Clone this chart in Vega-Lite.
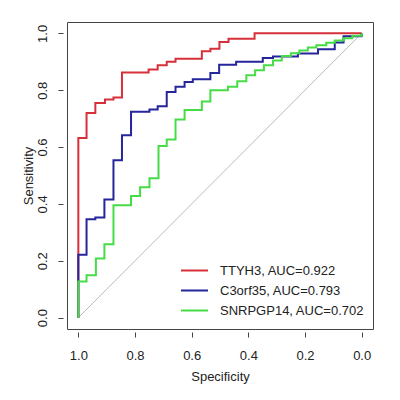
{
  "$schema": "https://vega.github.io/schema/vega-lite/v6.json",
  "width": 306,
  "height": 307,
  "autosize": "none",
  "padding": {"left": 67, "top": 22, "right": 27, "bottom": 71},
  "background": "#ffffff",
  "config": {
    "font": "Liberation Sans",
    "view": {"stroke": "#444444", "strokeWidth": 1},
    "axis": {
      "grid": false,
      "domain": false,
      "tickColor": "#444444",
      "tickSize": 5,
      "labelFont": "Liberation Sans",
      "labelFontSize": 13,
      "labelColor": "#222222",
      "titleFont": "Liberation Sans",
      "titleFontSize": 13,
      "titleFontWeight": "normal",
      "titleColor": "#222222"
    }
  },
  "datasets": {
    "roc": [
      {"curve": "TTYH3, AUC=0.922", "i": 0, "spec": 1.0, "sens": 0.0},
      {"curve": "TTYH3, AUC=0.922", "i": 1, "spec": 1.0, "sens": 0.632},
      {"curve": "TTYH3, AUC=0.922", "i": 2, "spec": 0.971, "sens": 0.72},
      {"curve": "TTYH3, AUC=0.922", "i": 3, "spec": 0.94, "sens": 0.755},
      {"curve": "TTYH3, AUC=0.922", "i": 4, "spec": 0.906, "sens": 0.767},
      {"curve": "TTYH3, AUC=0.922", "i": 5, "spec": 0.876, "sens": 0.774},
      {"curve": "TTYH3, AUC=0.922", "i": 6, "spec": 0.846, "sens": 0.862},
      {"curve": "TTYH3, AUC=0.922", "i": 7, "spec": 0.752, "sens": 0.873},
      {"curve": "TTYH3, AUC=0.922", "i": 8, "spec": 0.72, "sens": 0.888},
      {"curve": "TTYH3, AUC=0.922", "i": 9, "spec": 0.688, "sens": 0.9},
      {"curve": "TTYH3, AUC=0.922", "i": 10, "spec": 0.657, "sens": 0.911},
      {"curve": "TTYH3, AUC=0.922", "i": 11, "spec": 0.564, "sens": 0.937},
      {"curve": "TTYH3, AUC=0.922", "i": 12, "spec": 0.534, "sens": 0.946},
      {"curve": "TTYH3, AUC=0.922", "i": 13, "spec": 0.502, "sens": 0.97},
      {"curve": "TTYH3, AUC=0.922", "i": 14, "spec": 0.47, "sens": 0.981},
      {"curve": "TTYH3, AUC=0.922", "i": 15, "spec": 0.378, "sens": 1.0},
      {"curve": "TTYH3, AUC=0.922", "i": 16, "spec": 0.0, "sens": 1.0},
      {"curve": "C3orf35, AUC=0.793", "i": 0, "spec": 1.0, "sens": 0.0},
      {"curve": "C3orf35, AUC=0.793", "i": 1, "spec": 1.0, "sens": 0.221},
      {"curve": "C3orf35, AUC=0.793", "i": 2, "spec": 0.971, "sens": 0.346},
      {"curve": "C3orf35, AUC=0.793", "i": 3, "spec": 0.94, "sens": 0.352},
      {"curve": "C3orf35, AUC=0.793", "i": 4, "spec": 0.908, "sens": 0.416},
      {"curve": "C3orf35, AUC=0.793", "i": 5, "spec": 0.876, "sens": 0.554},
      {"curve": "C3orf35, AUC=0.793", "i": 6, "spec": 0.846, "sens": 0.642},
      {"curve": "C3orf35, AUC=0.793", "i": 7, "spec": 0.814, "sens": 0.724},
      {"curve": "C3orf35, AUC=0.793", "i": 8, "spec": 0.749, "sens": 0.732},
      {"curve": "C3orf35, AUC=0.793", "i": 9, "spec": 0.72, "sens": 0.744},
      {"curve": "C3orf35, AUC=0.793", "i": 10, "spec": 0.688, "sens": 0.794},
      {"curve": "C3orf35, AUC=0.793", "i": 11, "spec": 0.657, "sens": 0.812},
      {"curve": "C3orf35, AUC=0.793", "i": 12, "spec": 0.625, "sens": 0.829},
      {"curve": "C3orf35, AUC=0.793", "i": 13, "spec": 0.596, "sens": 0.839},
      {"curve": "C3orf35, AUC=0.793", "i": 14, "spec": 0.534, "sens": 0.861},
      {"curve": "C3orf35, AUC=0.793", "i": 15, "spec": 0.503, "sens": 0.89},
      {"curve": "C3orf35, AUC=0.793", "i": 16, "spec": 0.443, "sens": 0.9},
      {"curve": "C3orf35, AUC=0.793", "i": 17, "spec": 0.349, "sens": 0.913},
      {"curve": "C3orf35, AUC=0.793", "i": 18, "spec": 0.313, "sens": 0.919},
      {"curve": "C3orf35, AUC=0.793", "i": 19, "spec": 0.225, "sens": 0.929},
      {"curve": "C3orf35, AUC=0.793", "i": 20, "spec": 0.154, "sens": 0.944},
      {"curve": "C3orf35, AUC=0.793", "i": 21, "spec": 0.095, "sens": 0.968},
      {"curve": "C3orf35, AUC=0.793", "i": 22, "spec": 0.064, "sens": 0.99},
      {"curve": "C3orf35, AUC=0.793", "i": 23, "spec": 0.0, "sens": 1.0},
      {"curve": "SNRPGP14, AUC=0.702", "i": 0, "spec": 1.0, "sens": 0.0},
      {"curve": "SNRPGP14, AUC=0.702", "i": 1, "spec": 1.0, "sens": 0.127},
      {"curve": "SNRPGP14, AUC=0.702", "i": 2, "spec": 0.971, "sens": 0.149},
      {"curve": "SNRPGP14, AUC=0.702", "i": 3, "spec": 0.938, "sens": 0.208},
      {"curve": "SNRPGP14, AUC=0.702", "i": 4, "spec": 0.908, "sens": 0.258},
      {"curve": "SNRPGP14, AUC=0.702", "i": 5, "spec": 0.876, "sens": 0.395},
      {"curve": "SNRPGP14, AUC=0.702", "i": 6, "spec": 0.814, "sens": 0.428},
      {"curve": "SNRPGP14, AUC=0.702", "i": 7, "spec": 0.782, "sens": 0.459},
      {"curve": "SNRPGP14, AUC=0.702", "i": 8, "spec": 0.749, "sens": 0.49},
      {"curve": "SNRPGP14, AUC=0.702", "i": 9, "spec": 0.717, "sens": 0.604},
      {"curve": "SNRPGP14, AUC=0.702", "i": 10, "spec": 0.688, "sens": 0.627},
      {"curve": "SNRPGP14, AUC=0.702", "i": 11, "spec": 0.657, "sens": 0.697},
      {"curve": "SNRPGP14, AUC=0.702", "i": 12, "spec": 0.625, "sens": 0.73},
      {"curve": "SNRPGP14, AUC=0.702", "i": 13, "spec": 0.564, "sens": 0.76},
      {"curve": "SNRPGP14, AUC=0.702", "i": 14, "spec": 0.534, "sens": 0.8},
      {"curve": "SNRPGP14, AUC=0.702", "i": 15, "spec": 0.472, "sens": 0.812},
      {"curve": "SNRPGP14, AUC=0.702", "i": 16, "spec": 0.439, "sens": 0.832},
      {"curve": "SNRPGP14, AUC=0.702", "i": 17, "spec": 0.407, "sens": 0.853},
      {"curve": "SNRPGP14, AUC=0.702", "i": 18, "spec": 0.376, "sens": 0.87},
      {"curve": "SNRPGP14, AUC=0.702", "i": 19, "spec": 0.345, "sens": 0.888},
      {"curve": "SNRPGP14, AUC=0.702", "i": 20, "spec": 0.313, "sens": 0.905},
      {"curve": "SNRPGP14, AUC=0.702", "i": 21, "spec": 0.282, "sens": 0.92},
      {"curve": "SNRPGP14, AUC=0.702", "i": 22, "spec": 0.25, "sens": 0.93},
      {"curve": "SNRPGP14, AUC=0.702", "i": 23, "spec": 0.22, "sens": 0.94},
      {"curve": "SNRPGP14, AUC=0.702", "i": 24, "spec": 0.19, "sens": 0.95},
      {"curve": "SNRPGP14, AUC=0.702", "i": 25, "spec": 0.16, "sens": 0.958},
      {"curve": "SNRPGP14, AUC=0.702", "i": 26, "spec": 0.125, "sens": 0.967},
      {"curve": "SNRPGP14, AUC=0.702", "i": 27, "spec": 0.095, "sens": 0.975},
      {"curve": "SNRPGP14, AUC=0.702", "i": 28, "spec": 0.064, "sens": 0.983},
      {"curve": "SNRPGP14, AUC=0.702", "i": 29, "spec": 0.033, "sens": 0.992},
      {"curve": "SNRPGP14, AUC=0.702", "i": 30, "spec": 0.0, "sens": 1.0}
    ],
    "diag": [
      {"spec": 1.0, "sens": 0.0},
      {"spec": 0.0, "sens": 1.0}
    ]
  },
  "layer": [
    {
      "data": {"name": "diag"},
      "mark": {"type": "line", "color": "#bbbbbb", "strokeWidth": 1},
      "encoding": {
        "x": {
          "field": "spec", "type": "quantitative",
          "scale": {"domain": [1.04, -0.04], "nice": false, "zero": false},
          "axis": {
            "title": "Specificity",
            "values": [1, 0.8, 0.6, 0.4, 0.2, 0],
            "format": ".1f",
            "offset": 3,
            "labelPadding": 12,
            "titlePadding": 8
          }
        },
        "y": {
          "field": "sens", "type": "quantitative",
          "scale": {"domain": [-0.04, 1.04], "nice": false, "zero": false},
          "axis": {
            "title": "Sensitivity",
            "values": [0, 0.2, 0.4, 0.6, 0.8, 1],
            "format": ".1f",
            "offset": 4,
            "labelAngle": -90,
            "labelAlign": "center",
            "labelBaseline": "bottom",
            "labelPadding": 9,
            "titlePadding": 1
          }
        }
      }
    },
    {
      "data": {"name": "roc"},
      "transform": [{"filter": "datum.curve == 'TTYH3, AUC=0.922'"}],
      "mark": {"type": "line", "interpolate": "step-after", "strokeWidth": 2},
      "encoding": {
        "x": {"field": "spec", "type": "quantitative"},
        "y": {"field": "sens", "type": "quantitative"},
        "order": {"field": "i"},
        "color": {"field": "curve", "type": "nominal"}
      }
    },
    {
      "data": {"name": "roc"},
      "transform": [{"filter": "datum.curve == 'C3orf35, AUC=0.793'"}],
      "mark": {"type": "line", "interpolate": "step-after", "strokeWidth": 2},
      "encoding": {
        "x": {"field": "spec", "type": "quantitative"},
        "y": {"field": "sens", "type": "quantitative"},
        "order": {"field": "i"},
        "color": {"field": "curve", "type": "nominal"}
      }
    },
    {
      "data": {"name": "roc"},
      "transform": [{"filter": "datum.curve == 'SNRPGP14, AUC=0.702'"}],
      "mark": {"type": "line", "interpolate": "step-after", "strokeWidth": 2},
      "encoding": {
        "x": {"field": "spec", "type": "quantitative"},
        "y": {"field": "sens", "type": "quantitative"},
        "order": {"field": "i"},
        "color": {
          "field": "curve", "type": "nominal",
          "scale": {
            "domain": ["TTYH3, AUC=0.922", "C3orf35, AUC=0.793", "SNRPGP14, AUC=0.702"],
            "range": ["#d8303a", "#25259c", "#46dc46"]
          },
          "legend": {
            "title": null,
            "orient": "none",
            "legendX": 113,
            "legendY": 242,
            "symbolType": "stroke",
            "symbolSize": 729,
            "symbolStrokeWidth": 2,
            "clipHeight": 13,
            "labelFont": "Liberation Sans",
            "labelFontSize": 13,
            "labelColor": "#222222",
            "labelOffset": 11,
            "rowPadding": 6,
            "padding": 0
          }
        }
      }
    }
  ]
}
